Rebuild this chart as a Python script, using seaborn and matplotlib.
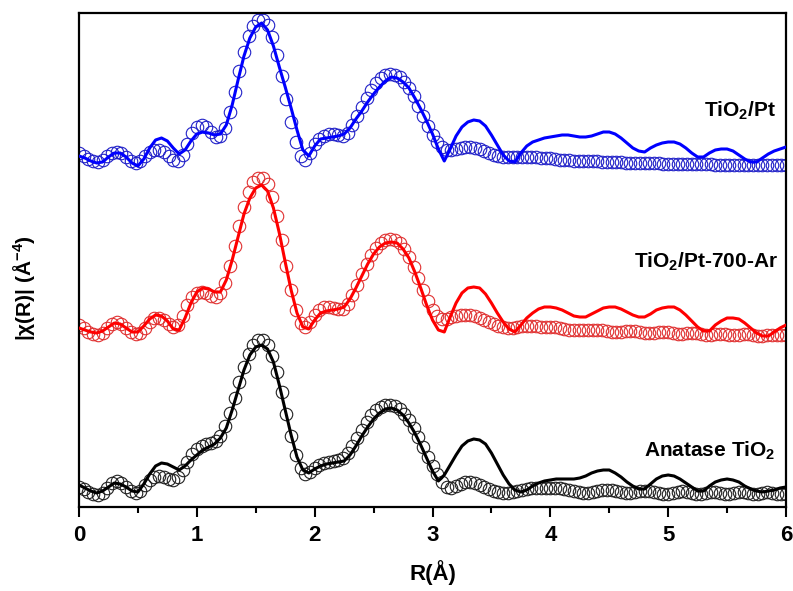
import numpy as np
import matplotlib
matplotlib.use("Agg")
import matplotlib.pyplot as plt
import seaborn as sns

# ---------------- data (|chi(R)|, arbitrary units) ----------------
R_line = np.linspace(0, 6, 121)   # experimental curve grid (0.05 A step)
R_fit = np.linspace(0, 6, 151)    # fit curve grid (0.04 A step)

anatase_line = [22,19,16,14,16,20,24,23,20,16,
                15,23,33,41,44,43,40,37,41,47,
                52,57,60,63,69,79,97,117,137,152,
                160,162,158,145,122,97,72,50,37,34,
                38,41,43,44,45,46,52,61,71,80,
                88,94,98,99,97,92,84,74,62,49,
                36,26,32,42,52,61,66,68,67,63,
                54,43,32,23,17,15,17,21,24,26,
                27,28,28,28,28,29,31,34,36,37,
                37,34,30,25,21,18,18,23,28,31,
                32,31,28,24,20,16,16,21,25,27,
                28,27,25,21,18,16,15,16,17,19,
                20]
anatase_fit = [20,18,15,13,12,14,19,24,26,24,
               20,16,14,16,22,27,30,31,30,28,
               27,30,37,45,53,58,61,63,64,66,
               71,81,94,109,125,140,153,162,167,167,
               162,151,135,115,93,71,52,39,33,35,
               39,42,44,45,46,47,49,54,61,69,
               77,85,92,97,100,102,102,101,98,93,
               87,79,70,60,50,41,33,25,20,19,
               21,23,25,25,24,22,20,18,16,15,
               14,14,15,16,17,18,19,19,19,19,
               19,19,19,18,17,16,15,14,14,15,
               16,17,17,17,16,15,14,14,15,16,
               16,16,15,14,13,13,14,15,16,15,
               14,13,13,14,15,15,14,13,13,14,
               15,15,14,13,13,14,15,14,13,13,
               13]

ar700_line = [14,12,10,9,11,15,19,18,14,10,
              10,16,23,27,26,21,13,12,24,39,
              50,54,53,50,50,62,82,105,128,144,
              154,157,151,134,109,80,52,29,15,13,
              22,29,31,32,33,35,43,54,66,78,
              88,95,99,100,99,93,84,70,54,37,
              22,12,10,25,39,49,54,55,54,48,
              39,29,20,13,10,17,24,29,33,35,
              35,34,32,29,26,25,25,28,31,34,
              35,35,33,30,27,25,25,28,32,34,
              35,35,32,27,21,15,11,11,17,21,
              24,24,23,19,14,9,6,6,10,14,
              17]
ar700_fit = [17,14,10,8,7,9,14,18,20,18,
             14,10,8,9,14,20,24,24,22,18,
             15,17,26,37,45,49,50,49,46,45,
             49,59,76,96,116,135,150,160,164,164,
             158,145,126,102,76,52,32,19,15,20,
             27,32,35,35,34,33,33,38,47,57,
             68,78,87,94,99,102,103,102,99,93,
             85,75,64,52,41,32,26,23,23,25,
             26,27,27,27,26,24,22,20,18,16,
             15,14,14,15,16,16,16,16,15,15,
             15,15,14,13,12,12,12,12,12,12,
             12,12,11,10,10,10,11,11,11,10,
             9,9,9,10,10,10,9,8,8,9,
             9,9,8,7,7,8,8,8,7,7,
             7,8,8,7,6,6,7,7,7,7,
             7]

pt_line = [21,19,16,14,15,20,24,24,20,14,
           11,18,29,37,39,36,29,23,27,36,
           43,45,44,42,43,52,72,97,121,139,
           150,154,147,131,110,90,69,47,27,21,
           31,38,39,40,41,43,49,58,66,75,
           83,90,96,100,99,95,89,79,68,56,
           43,28,16,28,41,50,55,57,56,51,
           42,32,22,16,15,24,31,35,37,39,
           40,41,42,42,41,40,40,41,43,45,
           45,43,39,34,29,26,25,29,32,34,
           35,35,33,29,24,20,20,24,27,28,
           28,26,22,18,15,15,19,23,26,28,
           30]
pt_fit = [24,21,18,16,15,17,21,24,25,24,
          20,16,14,16,21,25,27,27,25,21,
          17,16,22,33,44,50,52,50,45,40,
          41,49,65,85,106,125,141,151,157,157,
          152,140,122,101,78,55,35,21,17,24,
          33,38,41,43,43,42,41,44,52,61,
          70,79,87,94,99,102,103,102,100,95,
          89,81,71,61,51,42,35,30,27,27,
          28,29,30,30,29,28,26,24,22,21,
          20,20,20,20,20,20,20,20,19,19,
          19,18,17,17,17,16,16,16,16,16,
          16,15,15,15,15,15,14,14,14,14,
          14,14,14,14,13,13,13,13,13,13,
          13,13,13,13,13,12,12,12,12,12,
          12,12,12,12,12,12,12,12,12,12,
          12]

names = ["Anatase TiO$_2$", "TiO$_2$/Pt-700-Ar", "TiO$_2$/Pt"]
offsets = [0, 165, 330]
line_colors = ["#000000", "#ff0000", "#0000ff"]
fit_colors = ["#202020", "#e03030", "#2020c8"]
label_pos = [(5.91, 50), (5.93, 239), (5.915, 390)]
x_ticks = [0, 1, 2, 3, 4, 5, 6]

# ---------------- style ----------------
sns.set_theme(style="ticks")
plt.rcParams["font.family"] = ["Liberation Sans", "DejaVu Sans"]
plt.rcParams["font.weight"] = "bold"
plt.rcParams["text.color"] = "#000000"
plt.rcParams["axes.labelcolor"] = "#000000"
plt.rcParams["xtick.color"] = "#000000"
plt.rcParams["ytick.color"] = "#000000"
plt.rcParams["mathtext.fontset"] = "custom"
plt.rcParams["mathtext.rm"] = "Liberation Sans:bold"
plt.rcParams["mathtext.it"] = "Liberation Sans:bold"
plt.rcParams["mathtext.bf"] = "Liberation Sans:bold"
plt.rcParams["mathtext.default"] = "rm"

fig = plt.figure(figsize=(7.93, 5.91), dpi=100)
ax = fig.add_axes([79/793, 84/591, 707/793, 494/591])

series = [(anatase_line, anatase_fit), (ar700_line, ar700_fit), (pt_line, pt_fit)]
for (lv, fv), off, lc, fc, name, (lx, ly) in zip(series, offsets, line_colors,
                                                  fit_colors, names, label_pos):
    sns.lineplot(x=R_fit, y=np.array(fv) + off, ax=ax, estimator=None, sort=False,
                 linestyle="none", marker="o", markersize=9,
                 markerfacecolor="none", markeredgecolor=fc, markeredgewidth=0.8,
                 color=fc, zorder=2)
    sns.lineplot(x=R_line, y=np.array(lv) + off, ax=ax, estimator=None, sort=False,
                 color=lc, linewidth=2.2, zorder=3)
    ax.text(lx, ly, name, ha="right", va="baseline", fontsize=15,
            fontweight="bold", color="#000000")

ax.set_xlim(0, 6)
ax.set_ylim(0, 494)
ax.set_xticks(x_ticks)
ax.set_xticks(np.arange(0.5, 6, 1.0), minor=True)
ax.set_xticklabels([str(t) for t in x_ticks])
ax.set_yticks([])
ax.tick_params(axis="x", which="major", direction="out", length=7, width=1.5,
               labelsize=16, pad=6, colors="#000000")
ax.tick_params(axis="x", which="minor", direction="out", length=4, width=1.5,
               colors="#000000")
for lab in ax.get_xticklabels():
    lab.set_fontweight("bold")
for s in ax.spines.values():
    s.set_linewidth(1.6)
    s.set_color("#000000")
    s.set_visible(True)

ax.set_xlabel("R(Å)", fontsize=16, fontweight="bold", labelpad=10, color="#000000")
ax.set_ylabel("|χ(R)| (Å$^{-4}$)", fontsize=15, fontweight="bold", color="#000000")
ax.yaxis.set_label_coords(-0.059, 0.443)

fig.savefig("out.png", dpi=100, facecolor="white")
